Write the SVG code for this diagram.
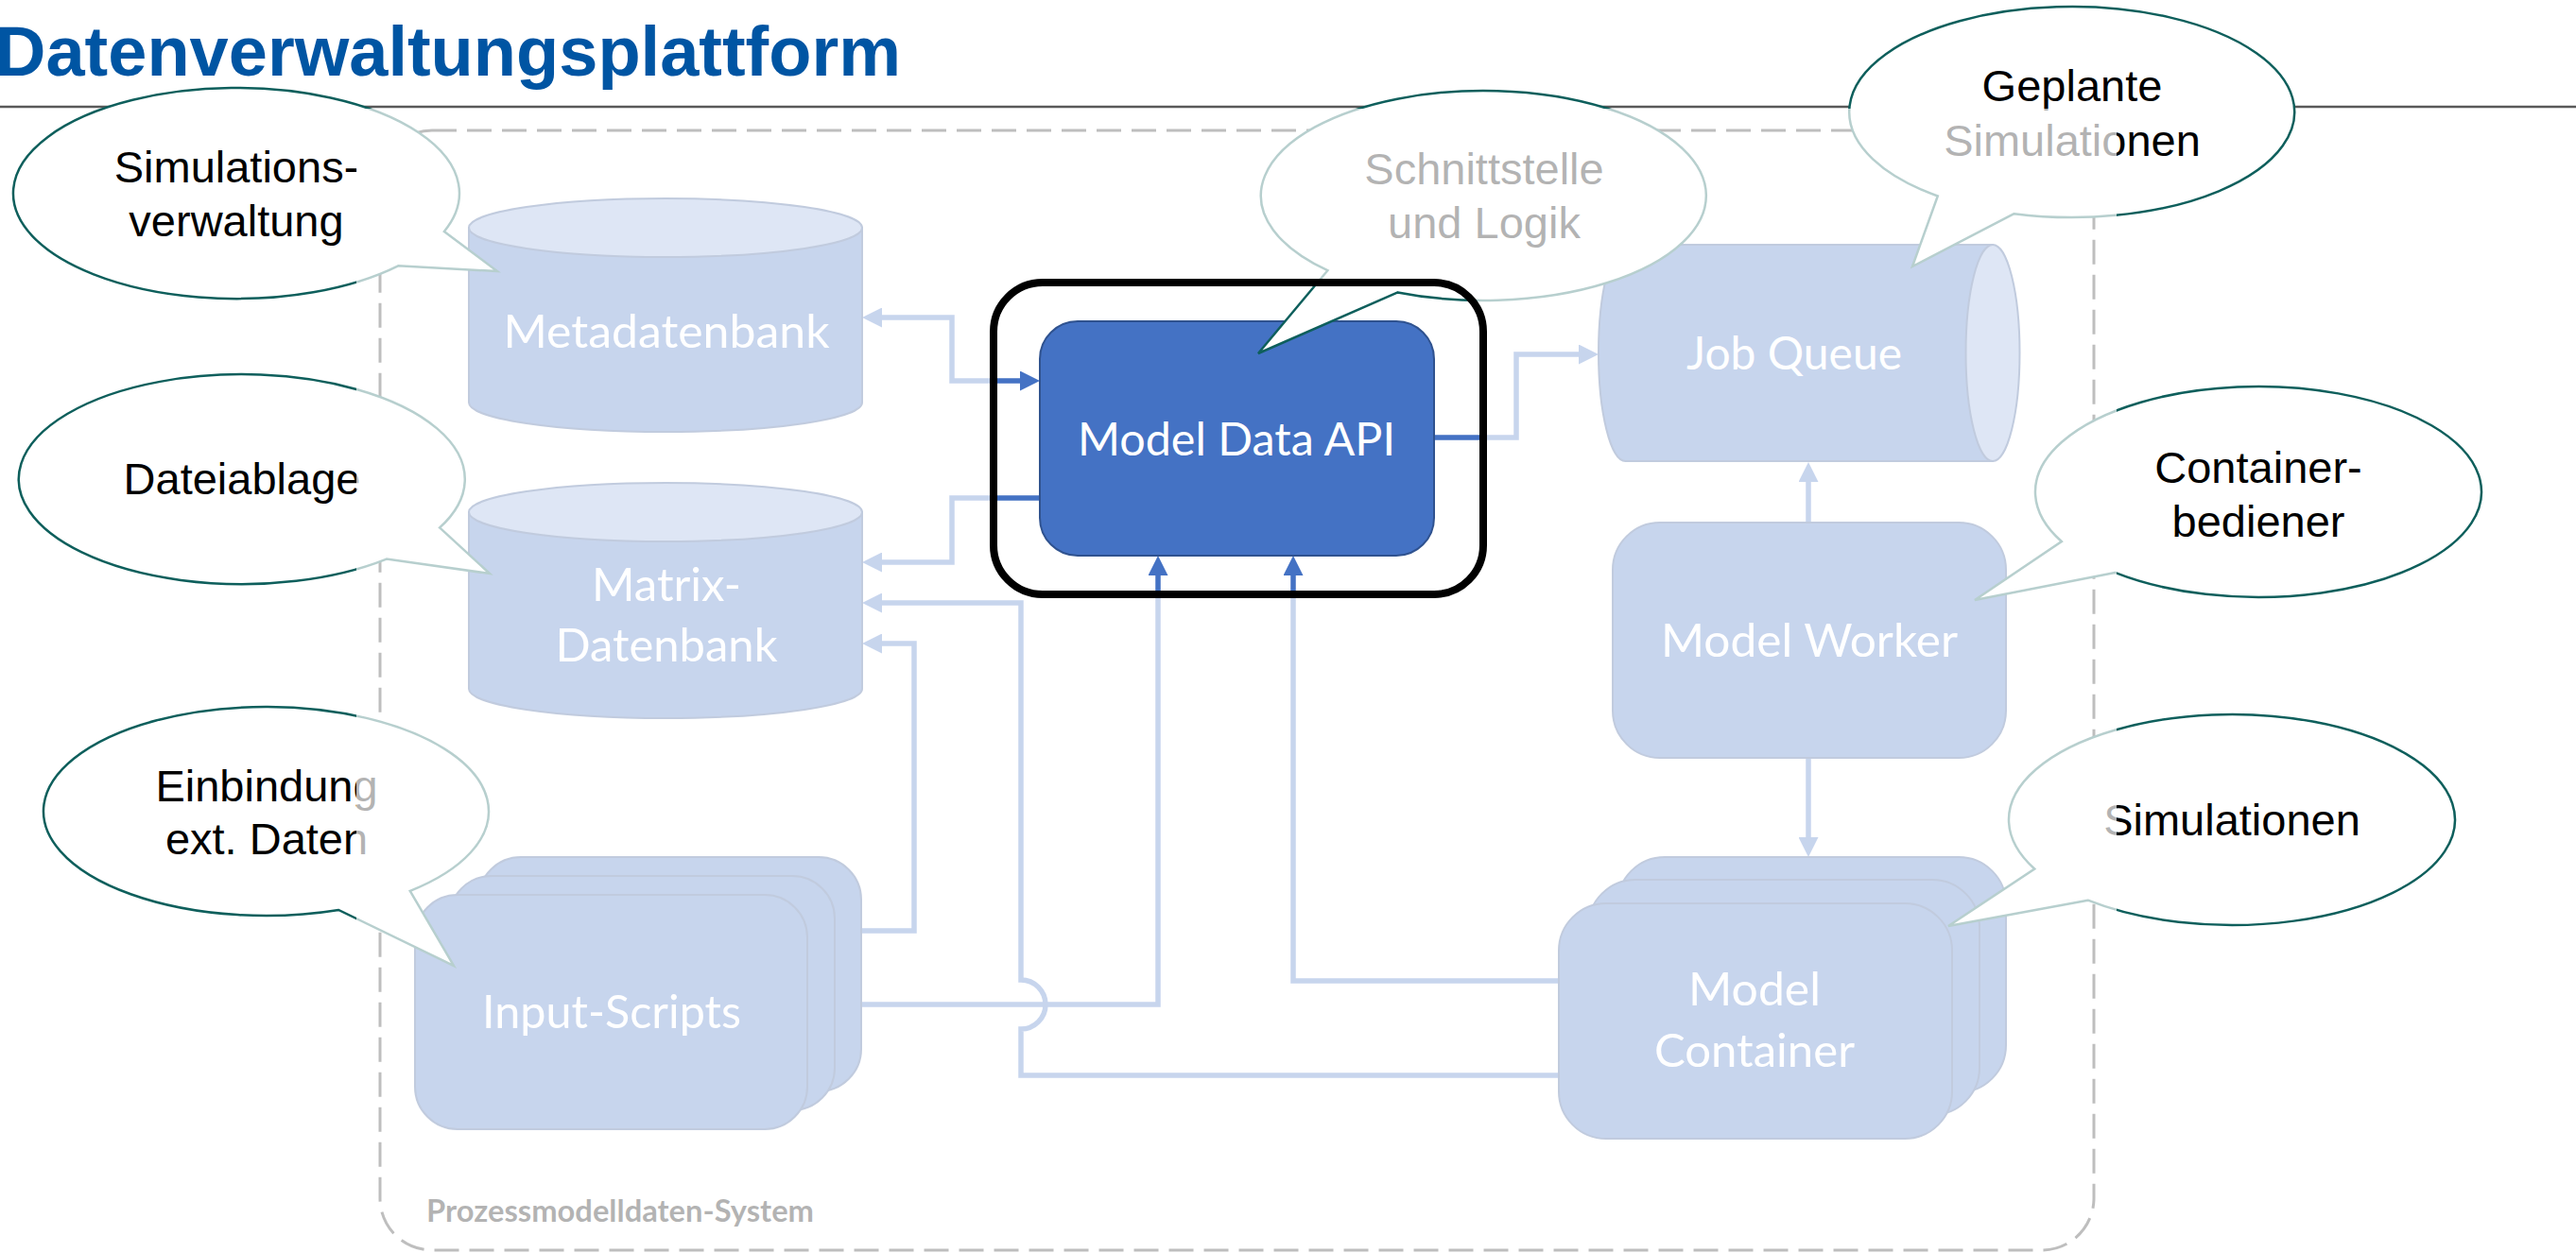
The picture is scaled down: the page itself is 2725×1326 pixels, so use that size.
<svg xmlns="http://www.w3.org/2000/svg" width="2725" height="1326" viewBox="0 0 2725 1326">
  <style>
    .title { font-family: "Liberation Sans", Arial, sans-serif; font-weight: bold; font-size: 74px; fill: #0055A3; }
    .rule { stroke: #595959; stroke-width: 2.5; }
    .system { fill: none; stroke: #262626; stroke-width: 3; stroke-dasharray: 26 11; }
    .system-label { font-family: Lato, "Open Sans", sans-serif; font-weight: bold; font-size: 33px; fill: #000; }
    .shape { fill: #4472C4; stroke: #2F528F; stroke-width: 2; }
    .shape-top { fill: #8FAADC; stroke: #2F528F; stroke-width: 2; }
    .label { font-family: Lato, "Open Sans", sans-serif; font-size: 47.5px; fill: #FFFFFF; text-anchor: middle; }
    .conn { fill: none; stroke: #4472C4; stroke-width: 5.5; }
    .bubble { fill: #FFFFFF; stroke: #0E5F5C; stroke-width: 2.5; stroke-linejoin: miter; }
    .bubble-text { font-family: "Liberation Sans", Arial, sans-serif; font-size: 47px; fill: #000; text-anchor: middle; }
    .veil { fill: #FFFFFF; fill-opacity: 0.7; fill-rule: evenodd; }
    .focus { fill: none; stroke: #000; stroke-width: 8; }
  </style>
  <defs>
    <marker id="arrow" markerUnits="userSpaceOnUse" markerWidth="21" markerHeight="21" refX="6" refY="10.5" orient="auto-start-reverse">
      <path d="M0,0 L21,10.5 L0,21 Z" fill="#4472C4"/>
    </marker>
  </defs>

  <!-- page heading -->
  <text class="title" x="-5" y="80">Datenverwaltungsplattform</text>
  <line class="rule" x1="0" y1="113" x2="2725" y2="113"/>

  <!-- system boundary -->
  <g id="system-boundary">
    <rect class="system" x="402" y="138" width="1813" height="1185" rx="55"/>
    <text class="system-label" x="451" y="1293" textLength="410" lengthAdjust="spacingAndGlyphs">Prozessmodelldaten-System</text>
  </g>

  <!-- connectors -->
  <g id="connectors">
    <path class="conn" d="M927,336 H1007 V403 H1085" marker-start="url(#arrow)" marker-end="url(#arrow)"/>
    <path class="conn" d="M1100,527 H1007 V595 H927" marker-end="url(#arrow)"/>
    <path class="conn" d="M1649,1138 H1080 V1089 A26,26 0 0 0 1080,1037 V638 H927" marker-end="url(#arrow)"/>
    <path class="conn" d="M911,985 H967 V681 H927" marker-end="url(#arrow)"/>
    <path class="conn" d="M911,1063 H1225 V603" marker-end="url(#arrow)"/>
    <path class="conn" d="M1649,1038 H1368 V603" marker-end="url(#arrow)"/>
    <path class="conn" d="M1517,463 H1604 V375 H1676" marker-end="url(#arrow)"/>
    <path class="conn" d="M1913,553 V504" marker-end="url(#arrow)"/>
    <path class="conn" d="M1913,802 V892" marker-end="url(#arrow)"/>
  </g>

  <!-- nodes -->
  <g id="metadatenbank">
    <path class="shape" d="M496,241 V426 A208,31 0 0 0 912,426 V241 Z"/>
    <ellipse class="shape-top" cx="704" cy="241" rx="208" ry="31"/>
    <text class="label" x="705" y="368" textLength="345" lengthAdjust="spacingAndGlyphs">Metadatenbank</text>
  </g>

  <g id="matrix-datenbank">
    <path class="shape" d="M496,542 V729 A208,31 0 0 0 912,729 V542 Z"/>
    <ellipse class="shape-top" cx="704" cy="542" rx="208" ry="31"/>
    <text class="label" x="705" y="636" textLength="158" lengthAdjust="spacingAndGlyphs">Matrix-</text>
    <text class="label" x="705" y="700" textLength="235" lengthAdjust="spacingAndGlyphs">Datenbank</text>
  </g>

  <g id="input-scripts">
    <rect class="shape" x="506" y="907" width="405" height="248" rx="45"/>
    <rect class="shape" x="475" y="927" width="408" height="248" rx="45"/>
    <rect class="shape" x="439" y="947" width="415" height="248" rx="45"/>
    <text class="label" x="647" y="1088" textLength="274" lengthAdjust="spacingAndGlyphs">Input-Scripts</text>
  </g>

  <g id="model-data-api">
    <rect x="1100" y="340" width="417" height="248" rx="40" fill="#4472C4" stroke="#2F528F" stroke-width="2"/>
    <text class="label" x="1308" y="482" textLength="336" lengthAdjust="spacingAndGlyphs">Model Data API</text>
  </g>

  <g id="job-queue">
    <path class="shape" d="M2108,259 H1719.5 A28.5,114.5 0 0 0 1719.5,488 H2108 Z"/>
    <ellipse class="shape-top" cx="2108" cy="373.5" rx="28.5" ry="114.5"/>
    <text class="label" x="1898" y="391" textLength="228" lengthAdjust="spacingAndGlyphs">Job Queue</text>
  </g>

  <g id="model-worker">
    <rect class="shape" x="1706" y="553" width="416" height="249" rx="50"/>
    <text class="label" x="1914" y="695" textLength="314" lengthAdjust="spacingAndGlyphs">Model Worker</text>
  </g>

  <g id="model-container">
    <rect class="shape" x="1711" y="907" width="411" height="249" rx="50"/>
    <rect class="shape" x="1680" y="931" width="414" height="249" rx="50"/>
    <rect class="shape" x="1649" y="956" width="416" height="249" rx="50"/>
    <text class="label" x="1856" y="1064" textLength="140" lengthAdjust="spacingAndGlyphs">Model</text>
    <text class="label" x="1856" y="1129" textLength="212" lengthAdjust="spacingAndGlyphs">Container</text>
  </g>

  <!-- speech-bubble annotations -->
  <g id="note-simulationsverwaltung">
    <path class="bubble" d="M469.9,245 L526,287 L421.2,281.3 A236,111.5 0 1 1 469.9,245 Z"/>
    <text class="bubble-text" x="250" y="193">Simulations-</text>
    <text class="bubble-text" x="250" y="250">verwaltung</text>
  </g>

  <g id="note-dateiablage">
    <path class="bubble" d="M465.1,558.4 L518,607 L408.9,591.6 A236,111 0 1 1 465.1,558.4 Z"/>
    <text class="bubble-text" x="256" y="523">Dateiablage</text>
  </g>

  <g id="note-einbindung">
    <path class="bubble" d="M433.8,942.8 L480,1022 L358.2,963 A235.5,110.5 0 1 1 433.8,942.8 Z"/>
    <text class="bubble-text" x="282" y="848">Einbindung</text>
    <text class="bubble-text" x="282" y="904">ext. Daten</text>
  </g>

  <g id="note-schnittstelle">
    <path class="bubble" d="M1478.6,309.4 L1331,374 L1404.4,286.2 A235.5,111 0 1 1 1478.6,309.4 Z"/>
    <text class="bubble-text" x="1570" y="195">Schnittstelle</text>
    <text class="bubble-text" x="1570" y="252">und Logik</text>
  </g>

  <g id="note-geplante">
    <path class="bubble" d="M2130.6,226.2 L2023,282 L2049.8,207.5 A235.5,111.5 0 1 1 2130.6,226.2 Z"/>
    <text class="bubble-text" x="2192" y="107">Geplante</text>
    <text class="bubble-text" x="2192" y="165">Simulationen</text>
  </g>

  <g id="note-containerbediener">
    <path class="bubble" d="M2237.3,605.9 L2089,635 L2180.8,573 A236,111.5 0 1 1 2237.3,605.9 Z"/>
    <text class="bubble-text" x="2389" y="511">Container-</text>
    <text class="bubble-text" x="2389" y="568">bediener</text>
  </g>

  <g id="note-simulationen">
    <path class="bubble" d="M2208.7,952.7 L2061,980 L2152.2,919.5 A236,111.5 0 1 1 2208.7,952.7 Z"/>
    <text class="bubble-text" x="2361" y="884">Simulationen</text>
  </g>

  <!-- fade everything except the highlighted API -->
  <path class="veil" d="M377,115 H2239 V1330 H377 Z M1103,295 H1517 A56,56 0 0 1 1573,351 V577 A56,56 0 0 1 1517,633 H1103 A56,56 0 0 1 1047,577 V351 A56,56 0 0 1 1103,295 Z"/>

  <!-- highlight frame -->
  <rect class="focus" x="1051" y="299" width="518" height="330" rx="52"/>
</svg>
